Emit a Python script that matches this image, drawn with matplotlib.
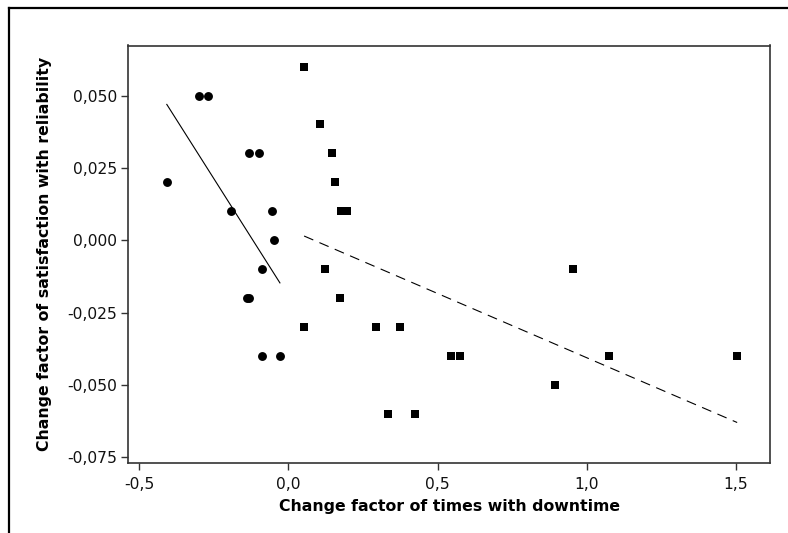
import numpy as np
import matplotlib
matplotlib.use("Agg")
import matplotlib.pyplot as plt
from matplotlib.lines import Line2D

# Decreasing-downtime group (circles)
circle_x = [-0.407, -0.299, -0.269, -0.130, -0.099, -0.191, -0.056, -0.047,
            -0.088, -0.139, -0.131, -0.088, -0.028]
circle_y = [0.020, 0.050, 0.050, 0.030, 0.030, 0.010, 0.010, 0.000,
            -0.010, -0.020, -0.020, -0.040, -0.040]

# Increasing-downtime group (squares)
square_x = [0.053, 0.105, 0.146, 0.155, 0.175, 0.198, 0.122, 0.174, 0.053,
            0.295, 0.376, 0.334, 0.423, 0.546, 0.576, 1.074, 1.504, 0.894, 0.954]
square_y = [0.060, 0.040, 0.030, 0.020, 0.010, 0.010, -0.010, -0.020, -0.030,
            -0.030, -0.030, -0.060, -0.060, -0.040, -0.040, -0.040, -0.040,
            -0.050, -0.010]

xtick_values = [-0.5, 0.0, 0.5, 1.0, 1.5]
xtick_labels = ["-0,5", "0,0", "0,5", "1,0", "1,5"]
ytick_values = [0.050, 0.025, 0.000, -0.025, -0.050, -0.075]
ytick_labels = ["0,050", "0,025", "0,000", "-0,025", "-0,050", "-0,075"]

x_label = "Change factor of times with downtime"
y_label = "Change factor of satisfaction with reliability"

W, H = 788, 533
fig = plt.figure(figsize=(W / 100, H / 100), dpi=100)
fig.patch.set_facecolor("white")

# axes box in pixel terms
left, right, top, bottom = 128, 770, 45.5, 463
ax = fig.add_axes([left / W, 1 - bottom / H, (right - left) / W, (bottom - top) / H])

ax.set_xlim(-0.537, 1.614)
ax.set_ylim(-0.0770, 0.0673)

ax.plot(circle_x, circle_y, "o", color="black", markersize=6.4, markeredgewidth=0)
ax.plot(square_x, square_y, "s", color="black", markersize=6.4, markeredgewidth=0)

# least-squares trend for each group, across its own x range
for xs, ys, ls in [(circle_x, circle_y, "-"), (square_x, square_y, (0, (9, 6)))]:
    xs = np.asarray(xs)
    ys = np.asarray(ys)
    slope, intercept = np.polyfit(xs, ys, 1)
    xx = np.array([xs.min(), xs.max()])
    ax.plot(xx, slope * xx + intercept, color="black", linewidth=0.8, linestyle=ls)

ax.set_xticks(xtick_values)
ax.set_xticklabels(xtick_labels)
ax.set_yticks(ytick_values)
ax.set_yticklabels(ytick_labels)

ax.tick_params(axis="both", direction="out", length=5, width=1, color="#333333",
               labelsize=11.2, labelcolor="#111111", pad=3)
ax.tick_params(axis="x", pad=5)
for s in ax.spines.values():
    s.set_linewidth(1.2)
    s.set_color("#333333")

ax.set_xlabel(x_label, fontsize=11.3, fontweight="bold", labelpad=5)
ax.set_ylabel(y_label, fontsize=11.3, fontweight="bold", labelpad=11)

# outer frame around the figure
fig.add_artist(Line2D([9 / W, 9 / W], [0, 1 - 8 / H], color="black", linewidth=1.6,
                      transform=fig.transFigure))
fig.add_artist(Line2D([9 / W, 1], [1 - 8 / H, 1 - 8 / H], color="black", linewidth=1.6,
                      transform=fig.transFigure))

fig.savefig("out.png", dpi=100)
